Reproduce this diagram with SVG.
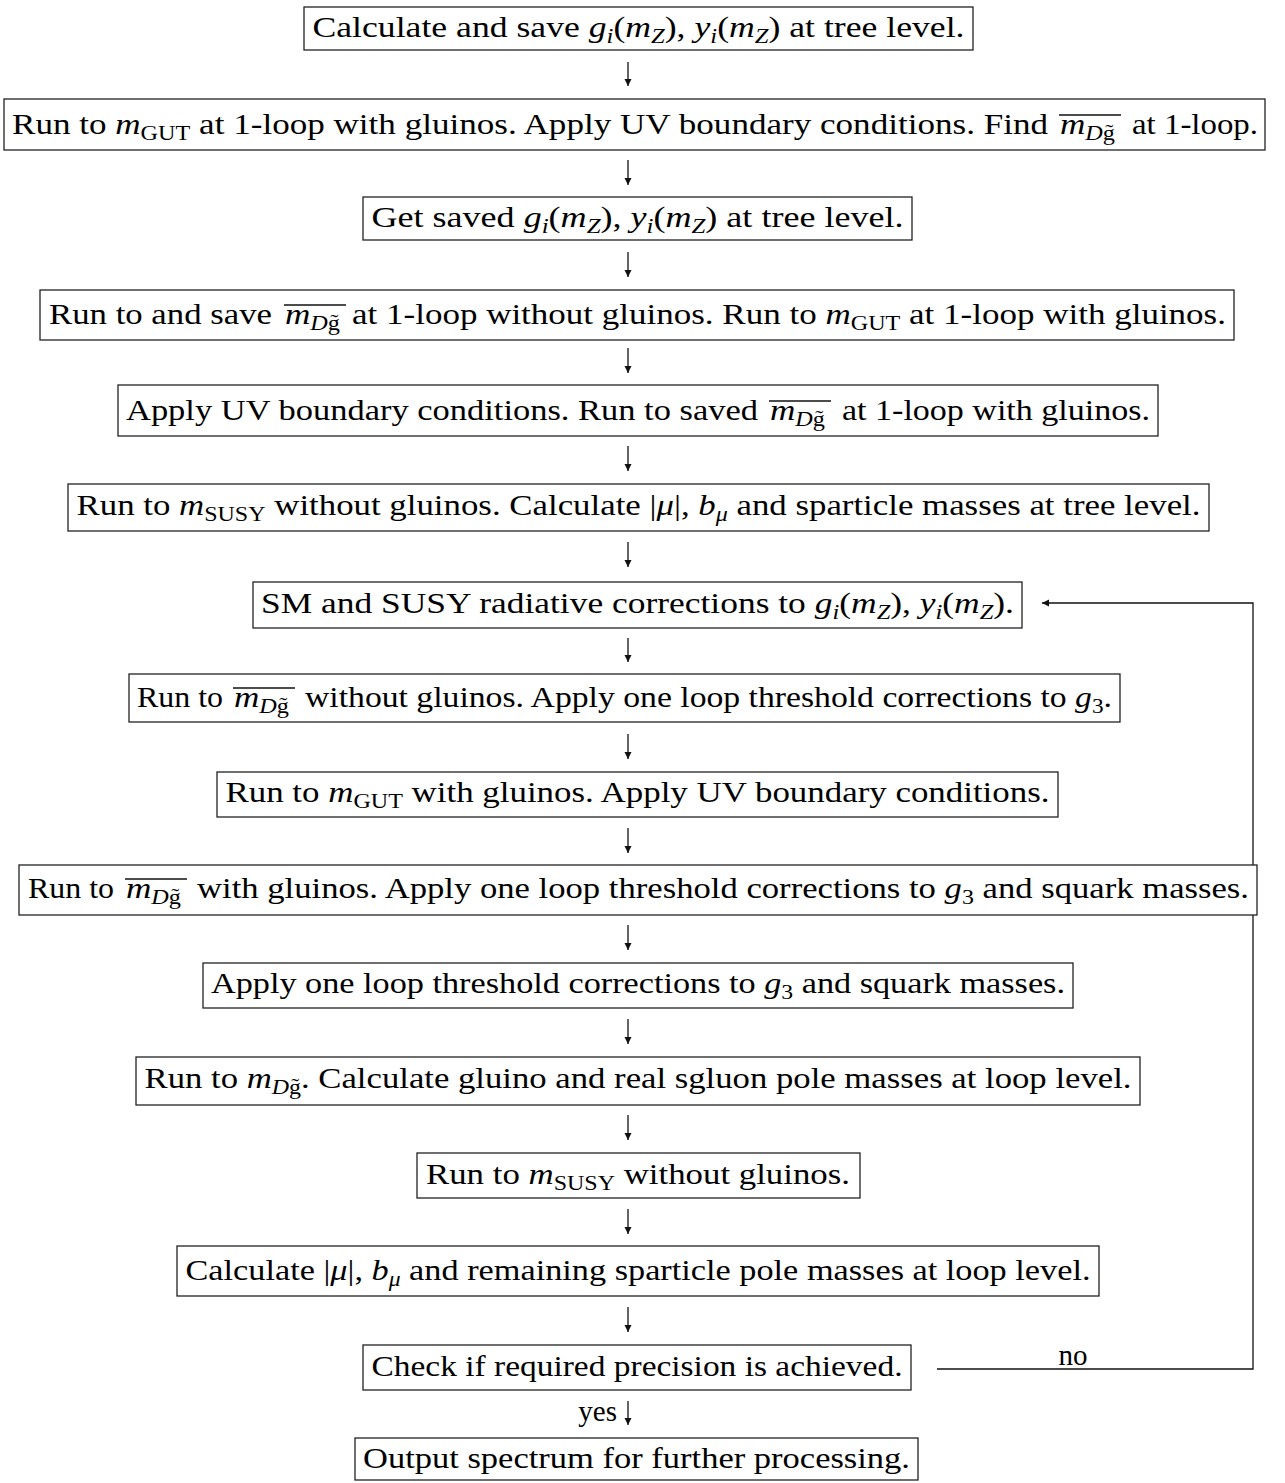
<svg xmlns="http://www.w3.org/2000/svg" width="1285" height="1483" viewBox="0 0 1285 1483">
<style>
.t{font-family:"Liberation Serif","DejaVu Serif",serif;font-size:29px;fill:#000;text-anchor:middle}
.l{text-anchor:start}
.i{font-style:italic}
.s{font-size:20px}
.box{fill:#fff;stroke:#222;stroke-width:1.3}
.c{fill:none;stroke:#111;stroke-width:1.3}
.ol{stroke:#111;stroke-width:1.3}
</style>
<defs>
<marker id="ah" viewBox="0 0 10 10" refX="10" refY="5" markerWidth="7" markerHeight="9" markerUnits="userSpaceOnUse" orient="auto">
<path d="M0,0 L10,5 L0,10 z" fill="#111"/>
</marker>
</defs>
<rect width="1285" height="1483" fill="#fff"/>
<g id="connectors">
<line class="c" x1="628" y1="62" x2="628" y2="86" marker-end="url(#ah)"/>
<line class="c" x1="628" y1="160" x2="628" y2="185" marker-end="url(#ah)"/>
<line class="c" x1="628" y1="252" x2="628" y2="277" marker-end="url(#ah)"/>
<line class="c" x1="628" y1="348" x2="628" y2="373" marker-end="url(#ah)"/>
<line class="c" x1="628" y1="446" x2="628" y2="471" marker-end="url(#ah)"/>
<line class="c" x1="628" y1="542" x2="628" y2="567" marker-end="url(#ah)"/>
<line class="c" x1="628" y1="638" x2="628" y2="662" marker-end="url(#ah)"/>
<line class="c" x1="628" y1="734" x2="628" y2="759" marker-end="url(#ah)"/>
<line class="c" x1="628" y1="828" x2="628" y2="853" marker-end="url(#ah)"/>
<line class="c" x1="628" y1="925" x2="628" y2="950" marker-end="url(#ah)"/>
<line class="c" x1="628" y1="1019" x2="628" y2="1044" marker-end="url(#ah)"/>
<line class="c" x1="628" y1="1115" x2="628" y2="1140" marker-end="url(#ah)"/>
<line class="c" x1="628" y1="1209" x2="628" y2="1234" marker-end="url(#ah)"/>
<line class="c" x1="628" y1="1307" x2="628" y2="1332" marker-end="url(#ah)"/>
<line class="c" x1="628" y1="1401" x2="628" y2="1425" marker-end="url(#ah)"/>
<text class="t" x="617" y="1421" style="text-anchor:end">yes</text>
<polyline class="c" points="937,1369 1253,1369 1253,603 1042,603" marker-end="url(#ah)"/>
<text class="t" x="1073" y="1365">no</text>
</g>
<g id="n1"><rect class="box" x="304" y="7" width="669" height="43"/>
<text class="t" x="638.5" y="37" textLength="652" lengthAdjust="spacingAndGlyphs">Calculate and save <tspan class="i">g</tspan><tspan class="s i" dy="6">i</tspan><tspan dy="-6">(</tspan><tspan class="i">m</tspan><tspan class="s i" dy="6">Z</tspan><tspan dy="-6">), </tspan><tspan class="i">y</tspan><tspan class="s i" dy="6">i</tspan><tspan dy="-6">(</tspan><tspan class="i">m</tspan><tspan class="s i" dy="6">Z</tspan><tspan dy="-6">) at tree level.</tspan></text></g>
<g id="n2"><rect class="box" x="4" y="99" width="1261" height="51"/>
<text class="t l" x="12" y="134" textLength="1036" lengthAdjust="spacingAndGlyphs">Run to <tspan class="i">m</tspan><tspan class="s" dy="6">GUT</tspan><tspan dy="-6"> at 1-loop with gluinos. Apply UV boundary conditions. Find</tspan></text>
<text class="t l" x="1060" y="134" textLength="55" lengthAdjust="spacingAndGlyphs"><tspan class="i">m</tspan><tspan class="s i" dy="6">D</tspan><tspan class="s">g̃</tspan></text>
<text class="t l" x="1132" y="134" textLength="126" lengthAdjust="spacingAndGlyphs">at 1-loop.</text>
<line class="ol" x1="1059" y1="115" x2="1121" y2="115"/></g>
<g id="n3"><rect class="box" x="363" y="197" width="549" height="43"/>
<text class="t" x="637.5" y="227" textLength="532" lengthAdjust="spacingAndGlyphs">Get saved <tspan class="i">g</tspan><tspan class="s i" dy="6">i</tspan><tspan dy="-6">(</tspan><tspan class="i">m</tspan><tspan class="s i" dy="6">Z</tspan><tspan dy="-6">), </tspan><tspan class="i">y</tspan><tspan class="s i" dy="6">i</tspan><tspan dy="-6">(</tspan><tspan class="i">m</tspan><tspan class="s i" dy="6">Z</tspan><tspan dy="-6">) at tree level.</tspan></text></g>
<g id="n4"><rect class="box" x="40" y="290" width="1194" height="50"/>
<text class="t l" x="49" y="324" textLength="223" lengthAdjust="spacingAndGlyphs">Run to and save</text>
<text class="t l" x="285" y="324" textLength="55" lengthAdjust="spacingAndGlyphs"><tspan class="i">m</tspan><tspan class="s i" dy="6">D</tspan><tspan class="s">g̃</tspan></text>
<text class="t l" x="352" y="324" textLength="874" lengthAdjust="spacingAndGlyphs">at 1-loop without gluinos. Run to <tspan class="i">m</tspan><tspan class="s" dy="6">GUT</tspan><tspan dy="-6"> at 1-loop with gluinos.</tspan></text>
<line class="ol" x1="284" y1="305" x2="346" y2="305"/></g>
<g id="n5"><rect class="box" x="118" y="385" width="1040" height="51"/>
<text class="t l" x="126" y="420" textLength="632" lengthAdjust="spacingAndGlyphs">Apply UV boundary conditions. Run to saved</text>
<text class="t l" x="770" y="420" textLength="55" lengthAdjust="spacingAndGlyphs"><tspan class="i">m</tspan><tspan class="s i" dy="6">D</tspan><tspan class="s">g̃</tspan></text>
<text class="t l" x="842" y="420" textLength="308" lengthAdjust="spacingAndGlyphs">at 1-loop with gluinos.</text>
<line class="ol" x1="769" y1="401" x2="831" y2="401"/></g>
<g id="n6"><rect class="box" x="68" y="484" width="1141" height="47"/>
<text class="t" x="638.5" y="515" textLength="1124" lengthAdjust="spacingAndGlyphs">Run to <tspan class="i">m</tspan><tspan class="s" dy="6">SUSY</tspan><tspan dy="-6"> without gluinos. Calculate |</tspan><tspan class="i">μ</tspan><tspan>|, </tspan><tspan class="i">b</tspan><tspan class="s i" dy="6">μ</tspan><tspan dy="-6"> and sparticle masses at tree level.</tspan></text></g>
<g id="n7"><rect class="box" x="253" y="582" width="769" height="46"/>
<text class="t" x="637.5" y="613" textLength="753" lengthAdjust="spacingAndGlyphs">SM and SUSY radiative corrections to <tspan class="i">g</tspan><tspan class="s i" dy="6">i</tspan><tspan dy="-6">(</tspan><tspan class="i">m</tspan><tspan class="s i" dy="6">Z</tspan><tspan dy="-6">), </tspan><tspan class="i">y</tspan><tspan class="s i" dy="6">i</tspan><tspan dy="-6">(</tspan><tspan class="i">m</tspan><tspan class="s i" dy="6">Z</tspan><tspan dy="-6">).</tspan></text></g>
<g id="n8"><rect class="box" x="129" y="674" width="991" height="48"/>
<text class="t l" x="137" y="707" textLength="86" lengthAdjust="spacingAndGlyphs">Run to</text>
<text class="t l" x="234" y="707" textLength="55" lengthAdjust="spacingAndGlyphs"><tspan class="i">m</tspan><tspan class="s i" dy="6">D</tspan><tspan class="s">g̃</tspan></text>
<text class="t l" x="305" y="707" textLength="807" lengthAdjust="spacingAndGlyphs">without gluinos. Apply one loop threshold corrections to <tspan class="i">g</tspan><tspan class="s" dy="6">3</tspan><tspan dy="-6">.</tspan></text>
<line class="ol" x1="233" y1="688" x2="295" y2="688"/></g>
<g id="n9"><rect class="box" x="217" y="772" width="841" height="45"/>
<text class="t" x="637.5" y="802" textLength="824" lengthAdjust="spacingAndGlyphs">Run to <tspan class="i">m</tspan><tspan class="s" dy="6">GUT</tspan><tspan dy="-6"> with gluinos. Apply UV boundary conditions.</tspan></text></g>
<g id="n10"><rect class="box" x="19" y="865" width="1238" height="50"/>
<text class="t l" x="28" y="898" textLength="86" lengthAdjust="spacingAndGlyphs">Run to</text>
<text class="t l" x="126" y="898" textLength="55" lengthAdjust="spacingAndGlyphs"><tspan class="i">m</tspan><tspan class="s i" dy="6">D</tspan><tspan class="s">g̃</tspan></text>
<text class="t l" x="197" y="898" textLength="1052" lengthAdjust="spacingAndGlyphs">with gluinos. Apply one loop threshold corrections to <tspan class="i">g</tspan><tspan class="s" dy="6">3</tspan><tspan dy="-6"> and squark masses.</tspan></text>
<line class="ol" x1="125" y1="879" x2="187" y2="879"/></g>
<g id="n11"><rect class="box" x="203" y="963" width="870" height="45"/>
<text class="t" x="638" y="993" textLength="854" lengthAdjust="spacingAndGlyphs">Apply one loop threshold corrections to <tspan class="i">g</tspan><tspan class="s" dy="6">3</tspan><tspan dy="-6"> and squark masses.</tspan></text></g>
<g id="n12"><rect class="box" x="136" y="1057" width="1004" height="48"/>
<text class="t" x="638" y="1088" textLength="987" lengthAdjust="spacingAndGlyphs">Run to <tspan class="i">m</tspan><tspan class="s i" dy="6">D</tspan><tspan class="s">g̃</tspan><tspan dy="-6">. Calculate gluino and real sgluon pole masses at loop level.</tspan></text></g>
<g id="n13"><rect class="box" x="417" y="1153" width="443" height="45"/>
<text class="t" x="638" y="1184" textLength="424" lengthAdjust="spacingAndGlyphs">Run to <tspan class="i">m</tspan><tspan class="s" dy="6">SUSY</tspan><tspan dy="-6"> without gluinos.</tspan></text></g>
<g id="n14"><rect class="box" x="177" y="1246" width="922" height="50"/>
<text class="t" x="638" y="1280" textLength="905" lengthAdjust="spacingAndGlyphs">Calculate |<tspan class="i">μ</tspan><tspan>|, </tspan><tspan class="i">b</tspan><tspan class="s i" dy="6">μ</tspan><tspan dy="-6"> and remaining sparticle pole masses at loop level.</tspan></text></g>
<g id="n15"><rect class="box" x="363" y="1345" width="548" height="45"/>
<text class="t" x="637" y="1376" textLength="531" lengthAdjust="spacingAndGlyphs">Check if required precision is achieved.</text></g>
<g id="n16"><rect class="box" x="355" y="1438" width="563" height="42"/>
<text class="t" x="636.5" y="1468" textLength="547" lengthAdjust="spacingAndGlyphs">Output spectrum for further processing.</text></g>
</svg>
